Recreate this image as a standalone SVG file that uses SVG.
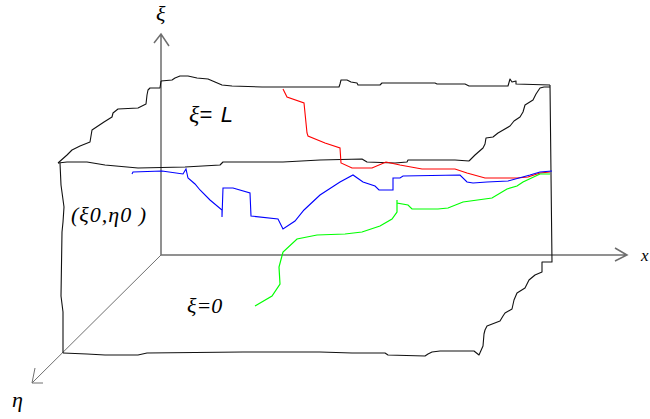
<svg xmlns="http://www.w3.org/2000/svg" width="650" height="419" viewBox="0 0 650 419">
<style>
.e{fill:none;stroke:#111;stroke-width:1.1;stroke-linejoin:round}
.a{fill:none;stroke:#6e6e6e;stroke-width:1.5}
.a2{fill:none;stroke:#707070;stroke-width:1}
.r{fill:none;stroke:#f00;stroke-width:1.1}
.b{fill:none;stroke:#00f;stroke-width:1.1}
.g{fill:none;stroke:#0f0;stroke-width:1.2}
.s{font-family:"Liberation Serif",serif;font-style:italic;fill:#000}
.n{font-family:"Liberation Sans",sans-serif;font-style:italic;fill:#000}
</style>
<rect width="650" height="419" fill="#fff"/>
<g id="connectors">
<path class="a" d="M161 34V255H627M615 248L627 255L615 261M154 43L161 34L169 46"/>
<path class="a2" d="M161 255L32 383M35 368L32 383L43 383"/>
<path class="e" d="M161 81L172 80L175 78L180 76L188 76L197 78L208 79L215 82L222 85L232 86L262 87L339 87L340 84L341 80L347 80L351 82L357 83L358 85L380 85L382 83L435 83L437 84L465 84L469 86L508 86L510 79L512 82L516 81L516 84L550 85"/>
<path class="e" d="M161 81L160 88L150 88L148 90L147 95L146 104L138 108L118 109L113 113L112 117L104 122L92 130L91 136L90 142L80 146L72 150L67 155L58 163"/>
<path class="e" d="M58 163L67 162L87 162L105 165L138 168L185 167L220 165L223 162L283 162L320 160L362 159L367 162L395 163L407 162L408 160L455 160L469 161"/>
<path class="e" d="M469 161L475 155L483 148L485 144L486 138L493 137L498 133L510 126L514 121L520 117L523 112L525 105L533 100L536 94L540 88L544 87L550 87"/>
<path class="e" d="M550 85L552 262L542 262L542 272L535 275L529 280L525 288L517 293L514 300L512 309L505 313L503 316L500 321L487 326L485 330L484 334L483 346L479 355L474 351L440 351L432 352L428 354L425 356L388 355L385 353L352 353L320 352L243 352L147 353L138 355L105 355L87 354L63 353"/>
<path class="e" d="M60 163L61 185L64 207L63 222L62 232L61 296L63 312L63 353"/>
<path class="r" d="M283 89L287 97L304 103L307 133L308 136L325 143L340 148L341 163L352 168L372 168L386 162L400 165L422 169L455 169L467 173L485 178L517 178L528 177L540 173L550 172"/>
<path class="b" d="M132 174L133 172L162 171L183 174L186 169L188 178L195 184L200 190L210 200L222 210L222 217L223 188L233 188L250 193L251 216L278 219L283 229L295 221L304 210L320 195L340 182L353 175L363 182L375 186L379 190L393 190L393 178L400 178L403 176L460 175L467 182L473 183L487 182L508 181L530 175L540 172L552 171"/>
<path class="g" d="M255 306L272 296L280 284L279 267L283 252L297 239L317 235L345 234L362 232L380 226L392 219L397 212L397 200L397 203L408 205L412 209L438 209L448 208L463 202L492 198L507 189L517 186L523 182L540 174L550 174"/>
</g>
<g id="label-xi"><text class="s" x="156" y="21" font-size="22">ξ</text></g>
<g id="label-x"><text class="s" x="641" y="261" font-size="17">x</text></g>
<g id="label-eta"><text class="s" x="12" y="407" font-size="22">η</text></g>
<g id="label-top"><text x="189" y="122" font-size="24"><tspan class="s">ξ</tspan><tspan class="n" font-size="22" letter-spacing="1.2">= L</tspan></text></g>
<g id="label-point"><text class="s" x="71" y="222" font-size="22" letter-spacing="1">(ξ0,η0 )</text></g>
<g id="label-bottom"><text class="s" x="187" y="313" font-size="22">ξ=0</text></g>
</svg>
